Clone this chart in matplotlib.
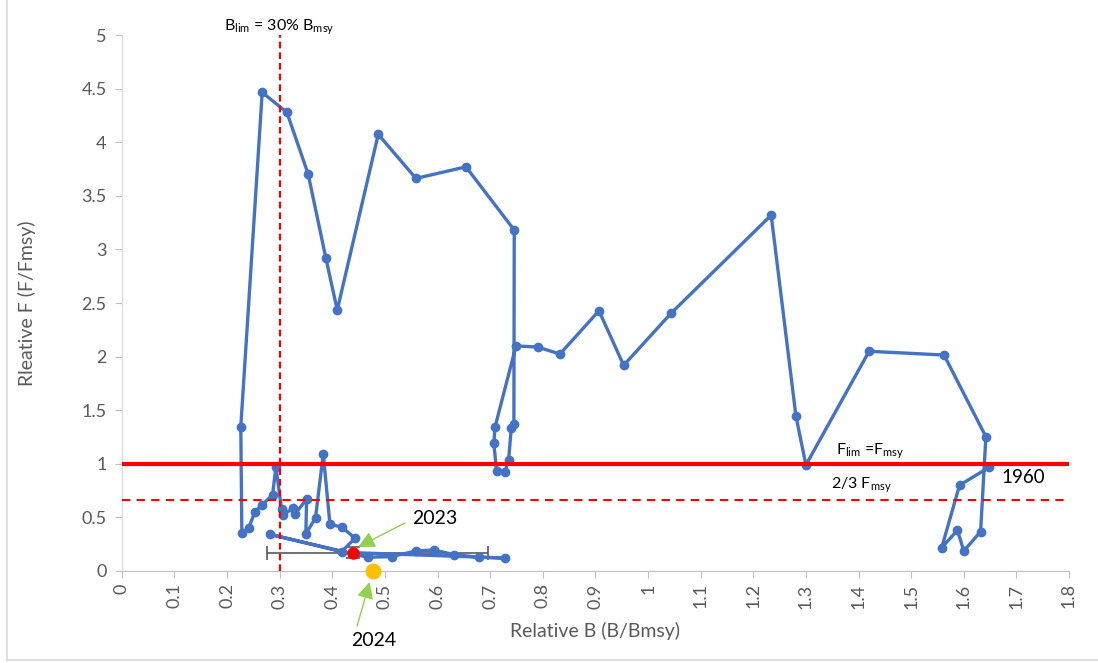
import matplotlib
matplotlib.use("Agg")
import matplotlib.pyplot as plt
from matplotlib.lines import Line2D

plt.rcParams["font.family"] = ["Lato", "DejaVu Sans"]
plt.rcParams["mathtext.fontset"] = "custom"
plt.rcParams["mathtext.rm"] = "Lato"
plt.rcParams["mathtext.it"] = "Lato:italic"

# Stock trajectory, 1960 onwards: relative biomass and relative fishing mortality
b_rel = [1.648, 1.592, 1.558, 1.588, 1.600, 1.632, 1.642, 1.5625, 1.420, 1.300,
         1.281, 1.234, 1.0435, 0.9536, 0.9067, 0.8325, 0.790, 0.749,
         0.709, 0.707, 0.712, 0.728, 0.735, 0.740, 0.745,
         0.7457, 0.6539, 0.5588, 0.4872, 0.4093, 0.3878, 0.354, 0.3136, 0.2667,
         0.226, 0.228, 0.241, 0.253, 0.2655, 0.2864, 0.2927, 0.3035, 0.3067,
         0.3244, 0.3295, 0.351, 0.3497, 0.368, 0.3827, 0.3954, 0.4188, 0.443,
         0.4176, 0.2813, 0.467, 0.5126, 0.5588, 0.5937, 0.631, 0.679, 0.728, 0.4397]
f_rel = [0.967, 0.80, 0.217, 0.38, 0.187, 0.367, 1.253, 2.015, 2.05, 0.989,
         1.446, 3.32, 2.404, 1.919, 2.428, 2.024, 2.09, 2.10,
         1.34, 1.19, 0.93, 0.92, 1.04, 1.33, 1.37,
         3.181, 3.771, 3.663, 4.074, 2.435, 2.917, 3.703, 4.279, 4.466,
         1.346, 0.351, 0.404, 0.553, 0.613, 0.709, 0.973, 0.575, 0.522,
         0.585, 0.532, 0.672, 0.345, 0.497, 1.091, 0.438, 0.407, 0.305,
         0.18, 0.342, 0.128, 0.134, 0.187, 0.196, 0.152, 0.128, 0.121, 0.171]

# 2023 assessment point with its uncertainty, and the 2024 projection
b_2023 = 0.4397
f_2023 = 0.171
b_2023_low = 0.275
b_2023_high = 0.696
f_2023_err = 0.053
b_2024 = 0.478
f_2024 = 0.0

# Reference points
b_lim = 0.3
f_lim = 1.0
f_target = 2 / 3

x_ticks = [round(0.1 * i, 1) for i in range(19)]
x_tick_labels = ["0", "0.1", "0.2", "0.3", "0.4", "0.5", "0.6", "0.7", "0.8", "0.9",
                 "1", "1.1", "1.2", "1.3", "1.4", "1.5", "1.6", "1.7", "1.8"]
y_ticks = [0, 0.5, 1, 1.5, 2, 2.5, 3, 3.5, 4, 4.5, 5]
y_tick_labels = ["0", "0.5", "1", "1.5", "2", "2.5", "3", "3.5", "4", "4.5", "5"]

BLUE = "#4472C4"
GREY = "#595959"
GREEN = "#92D050"

fig = plt.figure(figsize=(10.98, 6.63), dpi=100)
ax = fig.add_axes([0.111, 0.1388, 0.8626, 0.8082])

ax.plot(b_rel, f_rel, color=BLUE, lw=2.4, marker="o", ms=6.0,
        markerfacecolor=BLUE, markeredgecolor=BLUE, zorder=3,
        solid_joinstyle="round")

ax.axhline(f_lim, color="#FF0000", lw=3.0, zorder=4)
ax.axhline(f_target, color="#FF0000", lw=1.5, ls=(0, (4, 3)), zorder=4)
ax.axvline(b_lim, color="#FF0000", lw=1.6, ls=(0, (3, 1.8)), zorder=4)

ax.errorbar([b_2023], [f_2023],
            xerr=[[b_2023 - b_2023_low], [b_2023_high - b_2023]],
            yerr=[[f_2023_err], [f_2023_err]],
            fmt="none", ecolor=GREY, elinewidth=1.2, capsize=5, capthick=1.2,
            zorder=2.5)
ax.plot([b_2023], [f_2023], "o", color="#FF0000", ms=8, zorder=6)
ax.plot([b_2024], [f_2024], "o", color="#FFC000", ms=10.5, zorder=6,
        clip_on=False)

ax.text(b_lim, 5.075, r"B$_{\mathrm{lim}}$ = 30% B$_{\mathrm{msy}}$",
        ha="center", va="center", fontsize=11.5, color="black", clip_on=False)
ax.text(1.422, 1.12, r"F$_{\mathrm{lim}}$ =F$_{\mathrm{msy}}$",
        ha="center", va="center", fontsize=11.5, color="black")
ax.text(1.405, 0.80, r"2/3 F$_{\mathrm{msy}}$",
        ha="center", va="center", fontsize=11.5, color="black")
ax.text(1.713, 0.87, "1960", ha="center", va="center", fontsize=13.5,
        color="black")

arrow_style = dict(arrowstyle="-|>,head_length=1.0,head_width=0.5",
                   color=GREEN, lw=1.0, shrinkA=0, shrinkB=0)
ax.text(0.595, 0.494, "2023", ha="center", va="center", fontsize=14,
        color="black")
ax.annotate("", xy=(0.449, 0.224), xytext=(0.538, 0.448),
            arrowprops=arrow_style)
ax.text(0.479, -0.653, "2024", ha="center", va="center", fontsize=14,
        color="black", clip_on=False)
ax.annotate("", xy=(0.471, -0.103), xytext=(0.447, -0.513),
            annotation_clip=False, arrowprops=arrow_style)

ax.set_xlim(0, 1.8)
ax.set_ylim(0, 5)
ax.set_xticks(x_ticks)
ax.set_xticklabels(x_tick_labels, rotation=90)
ax.set_yticks(y_ticks)
ax.set_yticklabels(y_tick_labels)
ax.tick_params(axis="both", colors="#BFBFBF", labelcolor=GREY, labelsize=13,
               length=5, width=0.8, direction="out")
ax.tick_params(axis="y", pad=6)
ax.tick_params(axis="x", pad=4)

for side in ("top", "right"):
    ax.spines[side].set_visible(False)
ax.spines["left"].set_color("#D9D9D9")
ax.spines["bottom"].set_color("#BFBFBF")
ax.spines["left"].set_linewidth(0.8)
ax.spines["bottom"].set_linewidth(0.8)

ax.set_xlabel("Relative B (B/Bmsy)", fontsize=14, color=GREY)
ax.set_ylabel("Rleative F (F/Fmsy)", fontsize=14, color=GREY)
ax.xaxis.set_label_coords(0.5, -0.095)
ax.yaxis.set_label_coords(-0.091, 0.5)

# Chart-area border
fig.add_artist(Line2D([0.006, 0.006], [0.004, 1.0], transform=fig.transFigure,
                      color="#D9D9D9", lw=1.2))
fig.add_artist(Line2D([0.006, 1.0], [0.004, 0.004], transform=fig.transFigure,
                      color="#D9D9D9", lw=1.2))

fig.savefig("out.png", dpi=100)
